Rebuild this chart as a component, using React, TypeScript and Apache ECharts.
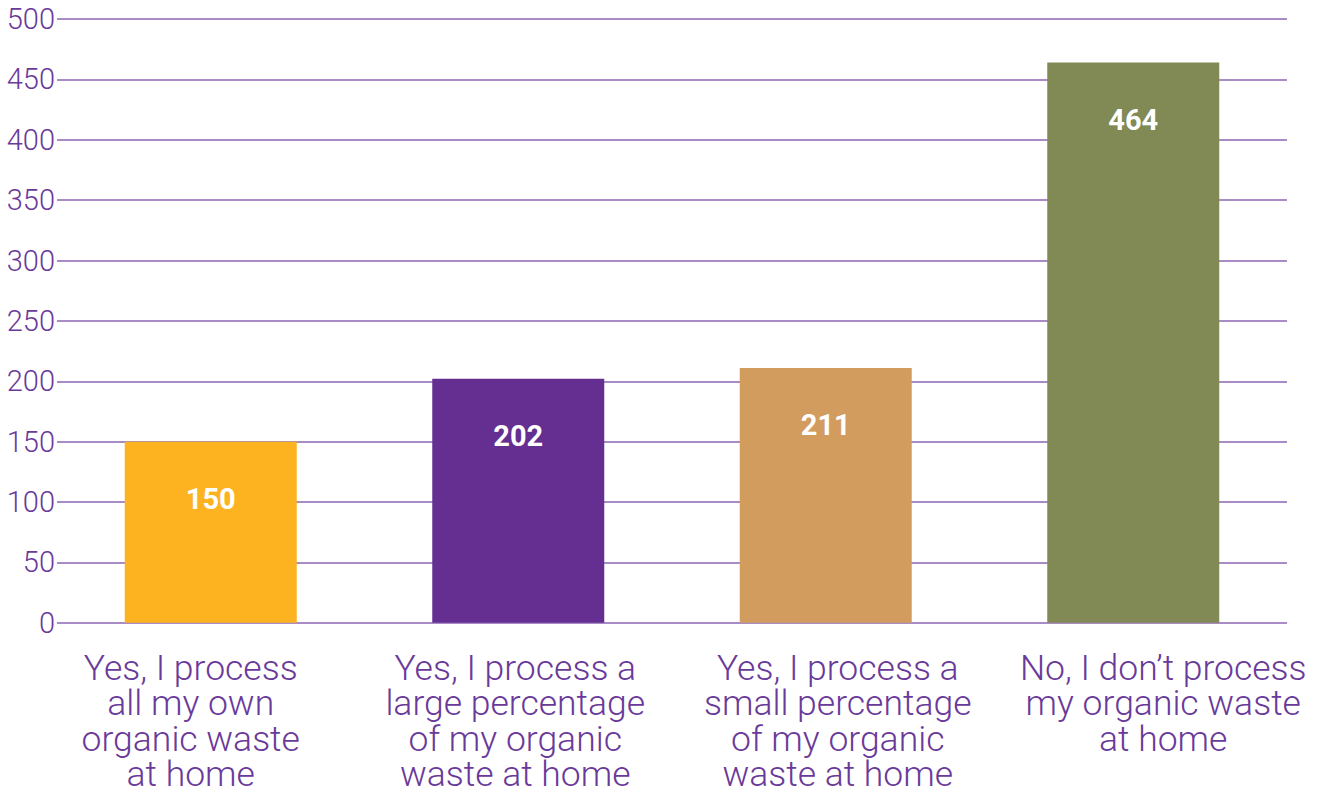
import React, { useEffect, useRef } from "react";
import * as echarts from "echarts";

const categories = [
  "Yes, I process\nall my own\norganic waste\nat home",
  "Yes, I process a\nlarge percentage\nof my organic\nwaste at home",
  "Yes, I process a\nsmall percentage\nof my organic\nwaste at home",
  "No, I don’t process\nmy organic waste\nat home",
];
const values = [150, 202, 211, 464];
const barColors = ["#FDB21F", "#642F90", "#D39C5F", "#818A55"];
const labelShift = [-20, -3, 12, 30];

export default function App() {
  const ref = useRef<HTMLDivElement>(null);
  useEffect(() => {
    if (!ref.current) return;
    const chart = echarts.init(ref.current, null, { renderer: "svg" });
    chart.setOption({
      animation: false,
      grid: { left: 57, right: 33, top: 19, bottom: 169, containLabel: false },
      xAxis: {
        type: "category",
        data: categories.map((c, i) => {
          const s = labelShift[i];
          return {
            value: c,
            textStyle: { padding: s >= 0 ? [0, 0, 0, 2 * s] : [0, -2 * s, 0, 0] },
          };
        }),
        axisLine: { show: false },
        axisTick: { show: false },
        axisLabel: {
          interval: 0,
          margin: 27,
          color: "#6A3A9A",
          fontFamily: "Roboto",
          fontWeight: 300,
          fontSize: 35.5,
          lineHeight: 35.5,
        },
      },
      yAxis: {
        type: "value",
        min: 0,
        max: 500,
        interval: 50,
        axisLine: { show: false },
        axisTick: { show: false },
        splitLine: { lineStyle: { color: "#A98BC5", width: 2 } },
        axisLabel: {
          margin: 2,
          color: "#6A3A9A",
          fontFamily: "Roboto",
          fontWeight: 300,
          fontSize: 29,
        },
      },
      series: [
        {
          type: "bar",
          barWidth: 172,
          data: values.map((v, i) => ({ value: v, itemStyle: { color: barColors[i] } })),
          label: {
            show: true,
            position: "insideTop",
            distance: 43,
            color: "#FFFFFF",
            fontFamily: "Roboto",
            fontWeight: "bold",
            fontSize: 29,
          },
        },
      ],
    });
    return () => chart.dispose();
  }, []);
  return <div ref={ref} style={{ width: 1320, height: 792, position: "absolute", left: 0, top: 0 }} />;
}
